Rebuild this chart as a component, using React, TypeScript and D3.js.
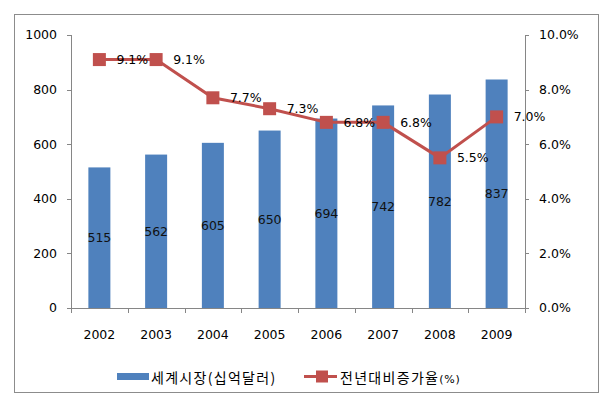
import React from "react";
import * as d3 from "d3";

const years = ["2002", "2003", "2004", "2005", "2006", "2007", "2008", "2009"];
const market = [515, 562, 605, 650, 694, 742, 782, 837];
const growth = [9.1, 9.1, 7.7, 7.3, 6.8, 6.8, 5.5, 7.0];
const leftTicks = [0, 200, 400, 600, 800, 1000];
const rightTicks = [0, 2, 4, 6, 8, 10];
const legendBar = "세계시장(십억달러)";
const legendLine = "전년대비증가율";

const W = 612, H = 403;
const plot = { left: 71, right: 525, top: 35, bottom: 308 };
const font = "'DejaVu Sans', Verdana, sans-serif";
const krFont = "'Noto Sans CJK KR', sans-serif";
const barColor = "#4F81BD";
const lineColor = "#C0504D";
const axisColor = "#868686";

export default function App() {
  const band = d3.scaleBand<string>().domain(years).range([plot.left, plot.right]);
  const yL = d3.scaleLinear().domain([0, 1000]).range([plot.bottom, plot.top]);
  const yR = d3.scaleLinear().domain([0, 10]).range([plot.bottom, plot.top]);
  const cx = (y: string) => (band(y) as number) + band.bandwidth() / 2;
  const line = d3.line<number>().x((_, i) => cx(years[i])).y((d) => yR(d));
  const bw = 22;

  return (
    <svg width={W} height={H} style={{ position: "absolute", left: 0, top: 0 }}>
      <rect x={0} y={0} width={W} height={H} fill="#fff" />
      <rect x={14.5} y={14.5} width={584} height={378} fill="#fff" stroke="#8c8c8c" strokeWidth={1} />
      {/* bars */}
      {market.map((v, i) => (
        <rect key={years[i]} x={cx(years[i]) - bw / 2} y={yL(v)} width={bw} height={yL(0) - yL(v)} fill={barColor} />
      ))}
      {/* left axis */}
      <line x1={plot.left + 0.5} x2={plot.left + 0.5} y1={plot.top} y2={plot.bottom} stroke={axisColor} />
      {leftTicks.map((t) => (
        <g key={t}>
          <line x1={plot.left - 4} x2={plot.left} y1={Math.round(yL(t)) + 0.5} y2={Math.round(yL(t)) + 0.5} stroke={axisColor} />
          <text x={57} y={yL(t)} dy="0.35em" textAnchor="end" fontFamily={font} fontSize={12.5} fill="#000">{t}</text>
        </g>
      ))}
      {/* right axis */}
      <line x1={plot.right + 0.5} x2={plot.right + 0.5} y1={plot.top} y2={plot.bottom} stroke={axisColor} />
      {rightTicks.map((t) => (
        <g key={t}>
          <line x1={plot.right} x2={plot.right + 4} y1={Math.round(yR(t)) + 0.5} y2={Math.round(yR(t)) + 0.5} stroke={axisColor} />
          <text x={539} y={yR(t)} dy="0.35em" textAnchor="start" fontFamily={font} fontSize={12.5} fill="#000">{t.toFixed(1) + "%"}</text>
        </g>
      ))}
      {/* x axis */}
      <line x1={plot.left} x2={plot.right + 1} y1={plot.bottom + 0.5} y2={plot.bottom + 0.5} stroke={axisColor} />
      {years.map((y) => (
        <line key={"t" + y} x1={Math.round(band(y) as number) + 0.5} x2={Math.round(band(y) as number) + 0.5} y1={plot.bottom} y2={plot.bottom + 5} stroke={axisColor} />
      ))}
      <line x1={plot.right + 0.5} x2={plot.right + 0.5} y1={plot.bottom} y2={plot.bottom + 5} stroke={axisColor} />
      {years.map((y) => (
        <text key={"l" + y} x={cx(y)} y={335} dy="0.35em" textAnchor="middle" fontFamily={font} fontSize={12.5} fill="#000">{y}</text>
      ))}
      {/* bar labels */}
      {market.map((v, i) => (
        <text key={"bl" + i} x={cx(years[i])} y={yL(v / 2)} dy="0.35em" textAnchor="middle" fontFamily={font} fontSize={12.5} fill="#111">{v}</text>
      ))}
      {/* line */}
      <path d={line(growth) as string} fill="none" stroke={lineColor} strokeWidth={3} />
      {growth.map((g, i) => (
        <rect key={"m" + i} x={cx(years[i]) - 6.5} y={yR(g) - 6.5} width={13} height={13} fill={lineColor} />
      ))}
      {growth.map((g, i) => (
        <text key={"gl" + i} x={cx(years[i]) + 17} y={yR(g)} dy="0.35em" textAnchor="start" fontFamily={font} fontSize={12.5} fill="#000">{g.toFixed(1) + "%"}</text>
      ))}
      {/* legend */}
      <rect x={117} y={373} width={32} height={7} fill={barColor} />
      <text x={151} y={378} dy="0.35em" fontFamily={krFont} fontSize={14} letterSpacing={1.3} fill="#000">{legendBar}</text>
      <line x1={304} x2={337} y1={376.5} y2={376.5} stroke={lineColor} strokeWidth={3} />
      <rect x={316} y={370.5} width={12} height={12} fill={lineColor} />
      <text x={340} y={378} dy="0.35em" fontFamily={krFont} fontSize={14} letterSpacing={1.3} fill="#000">
        {legendLine}
        <tspan fontSize={11} letterSpacing={0.8} fontFamily={font}>(%)</tspan>
      </text>
    </svg>
  );
}
